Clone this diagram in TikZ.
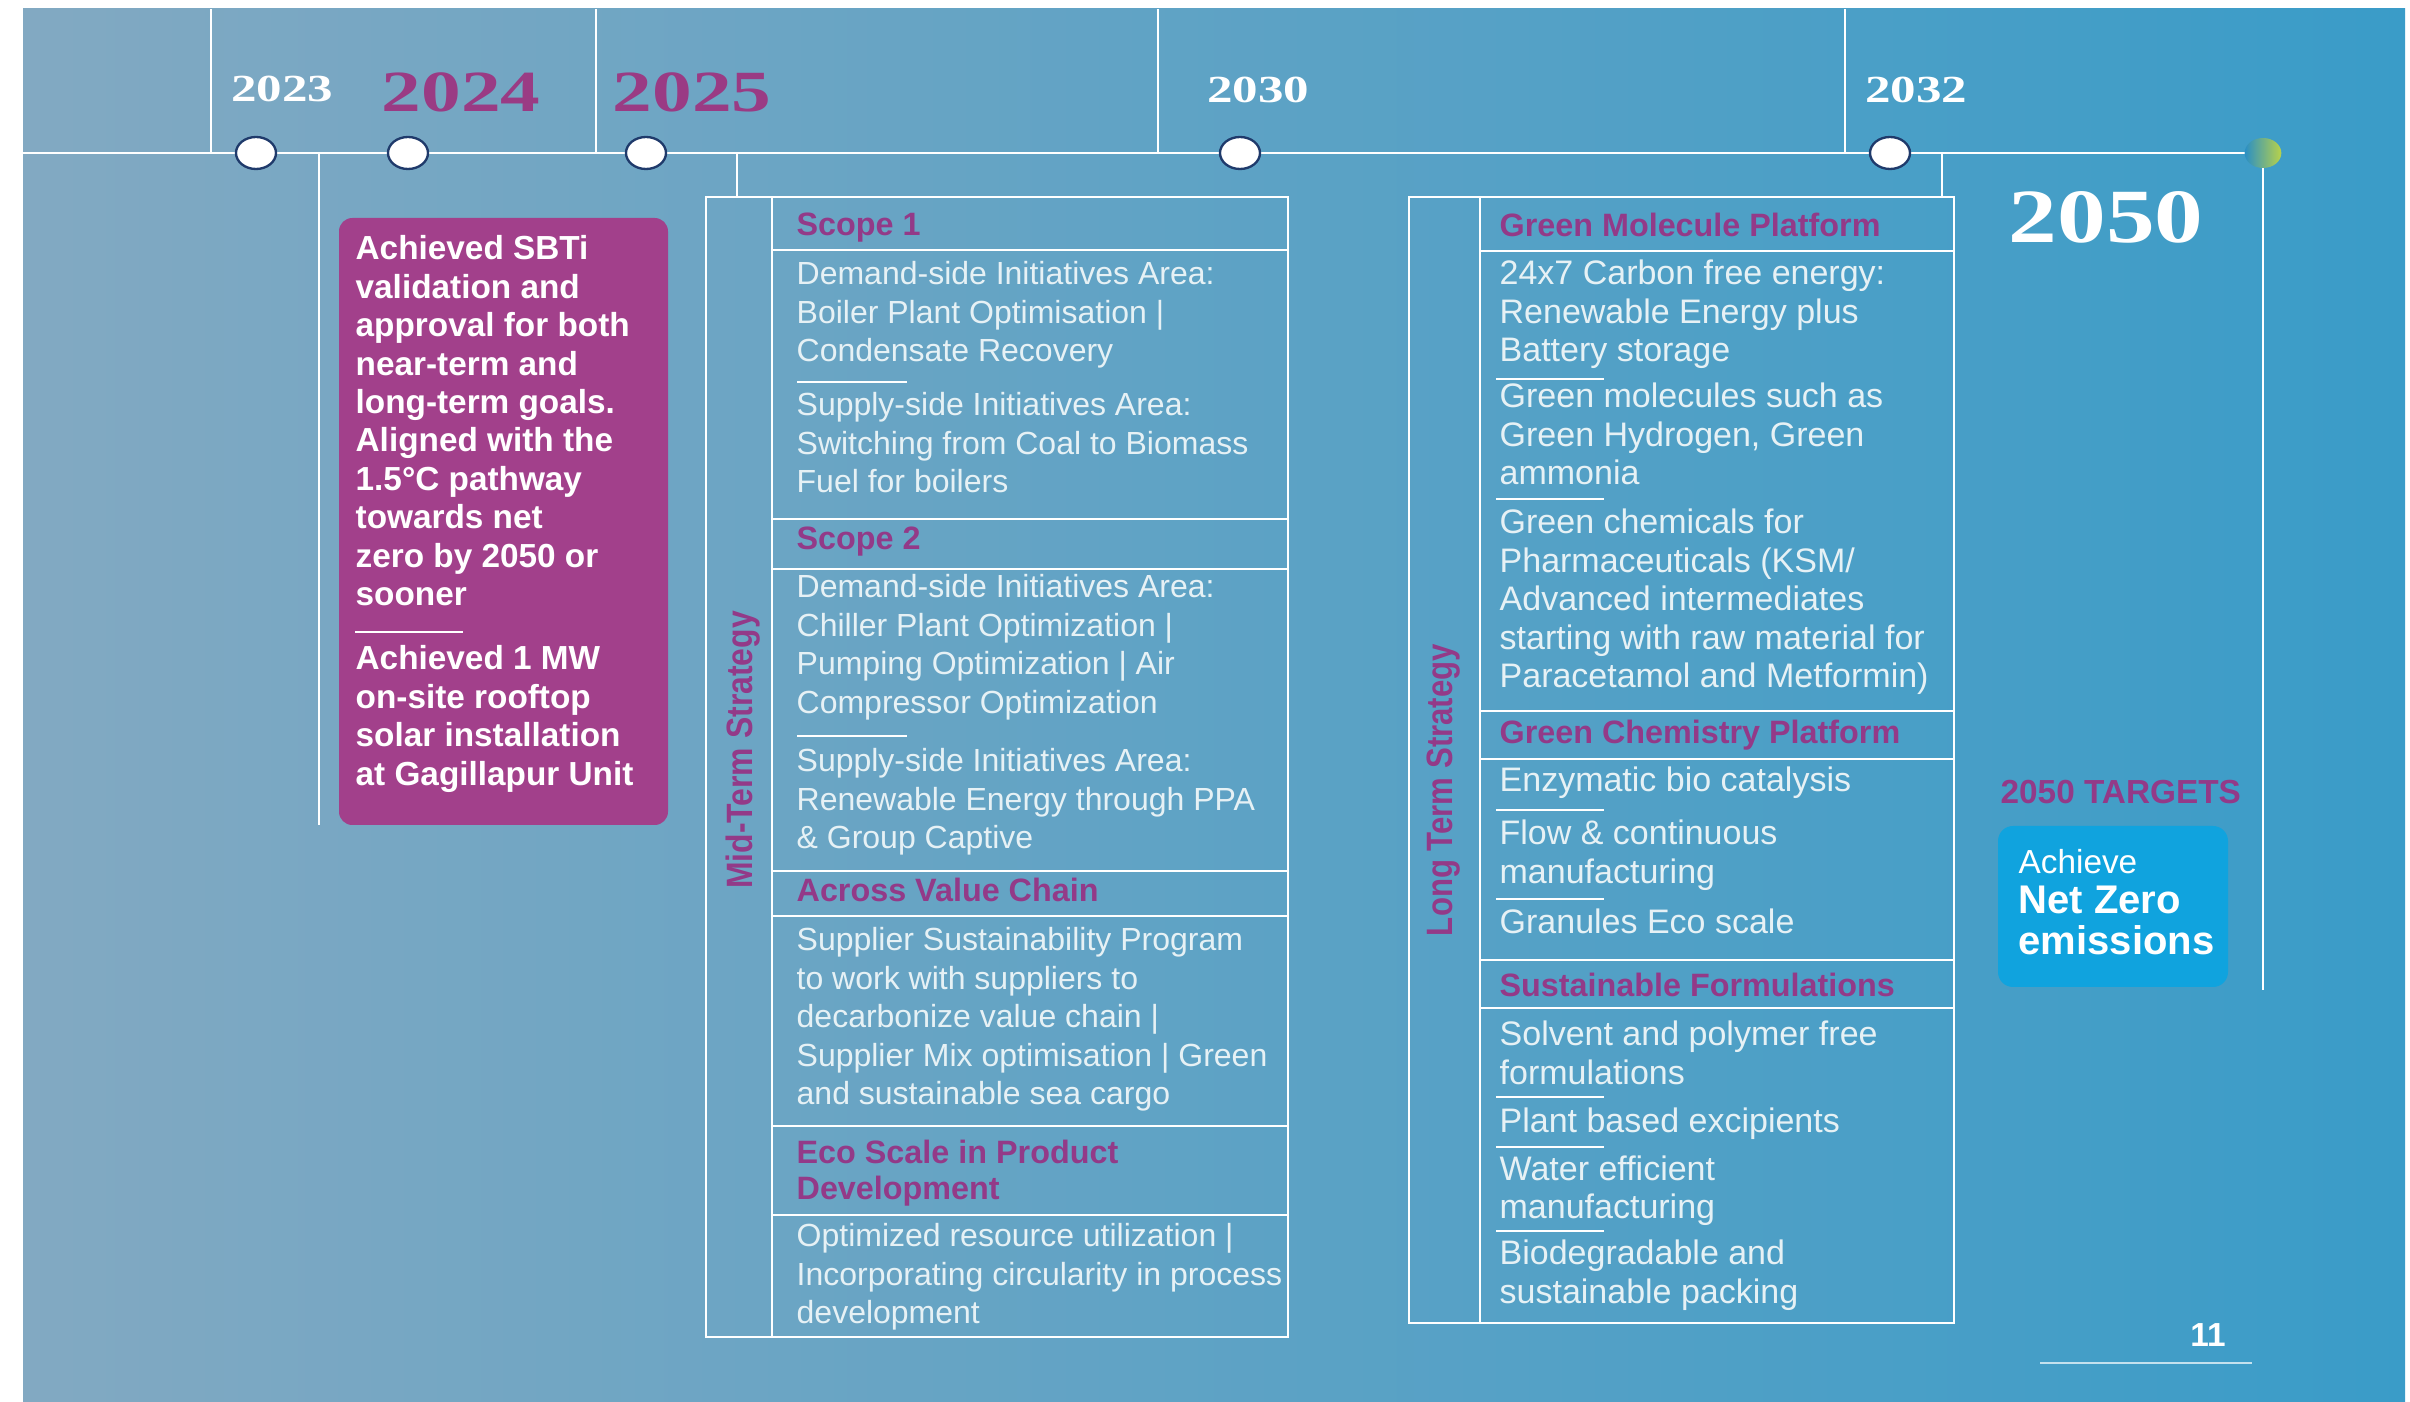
\documentclass[tikz,border=0pt]{standalone}
\usepackage{fontspec}
\setmainfont{Liberation Sans}
\newfontfamily\yearfont{Liberation Serif}
\usepackage{graphicx}
\usetikzlibrary{shapes.geometric}
\definecolor{bgL}{HTML}{82A9C2}
\definecolor{bgM}{HTML}{68AABF}
\definecolor{bgR}{HTML}{3A9CC8}
\definecolor{plum}{HTML}{933A88}
\definecolor{plumyear}{HTML}{9A3B84}
\definecolor{plumbox}{HTML}{A2408B}
\definecolor{cyanbox}{HTML}{10A3DE}
\definecolor{bodytxt}{HTML}{E6F1F5}
\definecolor{navy}{HTML}{1F3A6B}
\definecolor{dotL}{HTML}{2B8FC4}
\definecolor{dotR}{HTML}{B8D24A}
\newcommand\mltext[1]{\begin{tabular}[t]{@{}l@{}}#1\end{tabular}}
\begin{document}
\begin{tikzpicture}[x=0.3pt,y=-0.3pt,
  wline/.style={white,line width=0.75pt},
  sepline/.style={white,line width=0.6pt},
  yeardot/.style={ellipse,draw=navy,line width=0.7pt,fill=white,minimum width=12pt,minimum height=9.6pt,inner sep=0pt},
  body/.style={anchor=base west,inner sep=0pt,text=bodytxt,font=\fontsize{9.6}{11.55}\selectfont},
  lbody/.style={anchor=base west,inner sep=0pt,text=bodytxt,font=\fontsize{10.2}{11.55}\selectfont},
  head/.style={anchor=base west,inner sep=0pt,text=plum,font=\fontsize{9.7}{10.8}\selectfont\bfseries},
  yearsmall/.style={anchor=base,inner sep=0pt,text=white,font=\yearfont\bfseries\fontsize{11.5}{12}\selectfont},
  yearbig/.style={anchor=base,inner sep=0pt,text=plumyear,font=\yearfont\bfseries\fontsize{17.5}{18}\selectfont},
  sidelabel/.style={rotate=90,inner sep=0pt,text=plum,font=\fontsize{11}{13}\selectfont\bfseries},
  pbody/.style={anchor=base west,inner sep=0pt,text=white,font=\fontsize{10}{11.52}\selectfont\bfseries},
]
\useasboundingbox (0,0) rectangle (2410,1402);
\fill[white] (0,0) rectangle (2410,1402);
\shade[left color=bgL, middle color=bgM, right color=bgR] (23,9) rectangle (2405,1402);

% top ticks
\foreach \xx in {211,596,1158,1845} \draw[wline] (\xx,9) -- (\xx,153);

% timeline
\coordinate (tlstart) at (23,153);
\coordinate (tlend) at (2263,153);
\draw[wline] (tlstart) -- (tlend);

% drop lines
\coordinate (t24) at (319,153);  \coordinate (b24) at (319,825);
\coordinate (t25) at (737,153);  \coordinate (b25) at (737,197);
\coordinate (t32) at (1942,153); \coordinate (b32) at (1942,197);
\coordinate (t50) at (2263,153); \coordinate (b50) at (2263,990);
\draw[wline] (t24) -- (b24);
\draw[wline] (t25) -- (b25);
\draw[wline] (t32) -- (b32);
\draw[wline] (t50) -- (b50);

% dots
\node[yeardot] (d23) at (256,153) {};
\node[yeardot] (d24) at (408,153) {};
\node[yeardot] (d25) at (646,153) {};
\node[yeardot] (d30) at (1240,153) {};
\node[yeardot] (d32) at (1890,153) {};
\node[ellipse,minimum width=11pt,minimum height=9pt,inner sep=0pt,left color=dotL,right color=dotR] (d50) at (2263,153) {};

% years
\node[yearsmall] (y23) at (282,102) {\scalebox{1.33}[1]{2023}};
\node[yearbig] (y24) at (461,112) {\scalebox{1.36}[1]{2024}};
\node[yearbig] (y25) at (692,112) {\scalebox{1.36}[1]{2025}};
\node[yearsmall] (y30) at (1258,103) {\scalebox{1.33}[1]{2030}};
\node[yearsmall] (y32) at (1916,103) {\scalebox{1.33}[1]{2032}};
\node[anchor=base,inner sep=0pt,text=white,font=\yearfont\bfseries\fontsize{23}{24}\selectfont] (y50) at (2106,243) {\scalebox{1.27}[1]{2050}};

% 2024 purple box
\fill[plumbox,rounded corners=4pt] (339,218) rectangle (668,825);
\node[pbody] (p1) at (355,260) {\mltext{Achieved SBTi\\validation and\\approval for both\\near-term and\\long-term goals.\\Aligned with the\\1.5°C pathway\\towards net\\zero by 2050 or\\sooner}};
\draw[sepline] (355,632) -- (463,632);
\node[pbody] (p2) at (355,670) {\mltext{Achieved 1 MW\\on-site rooftop\\solar installation\\at Gagillapur Unit}};

% Mid-term table
\draw[wline] (706,197) rectangle (1288,1337);
\draw[wline] (772,197) -- (772,1337);
\foreach \yy in {250,519,569,871,916,1126,1215} \draw[wline] (772,\yy) -- (1288,\yy);
\node[sidelabel] (midlab) at (743,750) {\scalebox{0.87}[1]{Mid-Term Strategy}};
\node[head] (s1h) at (796,236) {Scope 1};
\node[body] (s1a) at (796,285) {\mltext{Demand-side Initiatives Area:\\Boiler Plant Optimisation |\\Condensate Recovery}};
\draw[sepline] (797,382) -- (907,382);
\node[body] (s1b) at (796,416) {\mltext{Supply-side Initiatives Area:\\Switching from Coal to Biomass\\Fuel for boilers}};
\node[head] (s2h) at (796,550) {Scope 2};
\node[body] (s2a) at (796,598) {\mltext{Demand-side Initiatives Area:\\Chiller Plant Optimization |\\Pumping Optimization | Air\\Compressor Optimization}};
\draw[sepline] (797,736) -- (907,736);
\node[body] (s2b) at (796,772) {\mltext{Supply-side Initiatives Area:\\Renewable Energy through PPA\\\& Group Captive}};
\node[head] (avh) at (796,902) {Across Value Chain};
\node[body] (ava) at (796,951) {\mltext{Supplier Sustainability Program\\to work with suppliers to\\decarbonize value chain |\\Supplier Mix optimisation | Green\\and sustainable sea cargo}};
\node[head] (ech) at (796,1163) {\mltext{Eco Scale in Product\\Development}};
\node[body] (eca) at (796,1247) {\mltext{Optimized resource utilization |\\Incorporating circularity in process\\development}};

% Long-term table
\draw[wline] (1409,197) rectangle (1954,1323);
\draw[wline] (1480,197) -- (1480,1323);
\foreach \yy in {251,711,759,960,1008} \draw[wline] (1480,\yy) -- (1954,\yy);
\node[sidelabel] (longlab) at (1444,790) {\scalebox{0.85}[1]{Long Term Strategy}};
\node[head] (gmh) at (1499,237) {Green Molecule Platform};
\node[lbody] (gm1) at (1499,285) {\mltext{24x7 Carbon free energy:\\Renewable Energy plus\\Battery storage}};
\draw[sepline] (1496,379) -- (1604,379);
\node[lbody] (gm2) at (1499,408) {\mltext{Green molecules such as\\Green Hydrogen, Green\\ammonia}};
\draw[sepline] (1496,499) -- (1604,499);
\node[lbody] (gm3) at (1499,534) {\mltext{Green chemicals for\\Pharmaceuticals (KSM/\\Advanced intermediates\\starting with raw material for\\Paracetamol and Metformin)}};
\node[head] (gch) at (1499,744) {Green Chemistry Platform};
\node[lbody] (gc1) at (1499,792) {Enzymatic bio catalysis};
\draw[sepline] (1496,810) -- (1604,810);
\node[lbody] (gc2) at (1499,845) {\mltext{Flow \& continuous\\manufacturing}};
\draw[sepline] (1496,899) -- (1604,899);
\node[lbody] (gc3) at (1499,934) {Granules Eco scale};
\node[head] (sfh) at (1499,997) {Sustainable Formulations};
\node[lbody] (sf1) at (1499,1046) {\mltext{Solvent and polymer free\\formulations}};
\draw[sepline] (1496,1097) -- (1604,1097);
\node[lbody] (sf2) at (1499,1133) {Plant based excipients};
\draw[sepline] (1496,1147) -- (1604,1147);
\node[lbody] (sf3) at (1499,1180) {\mltext{Water efficient\\manufacturing}};
\draw[sepline] (1496,1231) -- (1604,1231);
\node[lbody] (sf4) at (1499,1265) {\mltext{Biodegradable and\\sustainable packing}};

% 2050 targets
\node[anchor=base west,inner sep=0pt,text=plum,font=\fontsize{10}{12}\selectfont\bfseries] (tgt) at (2000,804) {2050 TARGETS};
\fill[cyanbox,rounded corners=4.5pt] (1998,826) rectangle (2228,987);
\node[anchor=base west,inner sep=0pt,text=white,font=\fontsize{10}{12}\selectfont] (ach) at (2018,874) {Achieve};
\node[anchor=base west,inner sep=0pt,text=white,font=\fontsize{12}{11.7}\selectfont\bfseries] (nz) at (2018,914) {\mltext{Net Zero\\emissions}};

% page number
\node[anchor=base,inner sep=0pt,text=white,font=\fontsize{10}{12}\selectfont\bfseries] (pg) at (2208,1346) {11};
\coordinate (pgl) at (2040,1363);
\coordinate (pgr) at (2252,1363);
\draw[white!70!bgR,line width=0.5pt] (pgl) -- (pgr);
\end{tikzpicture}
\end{document}
